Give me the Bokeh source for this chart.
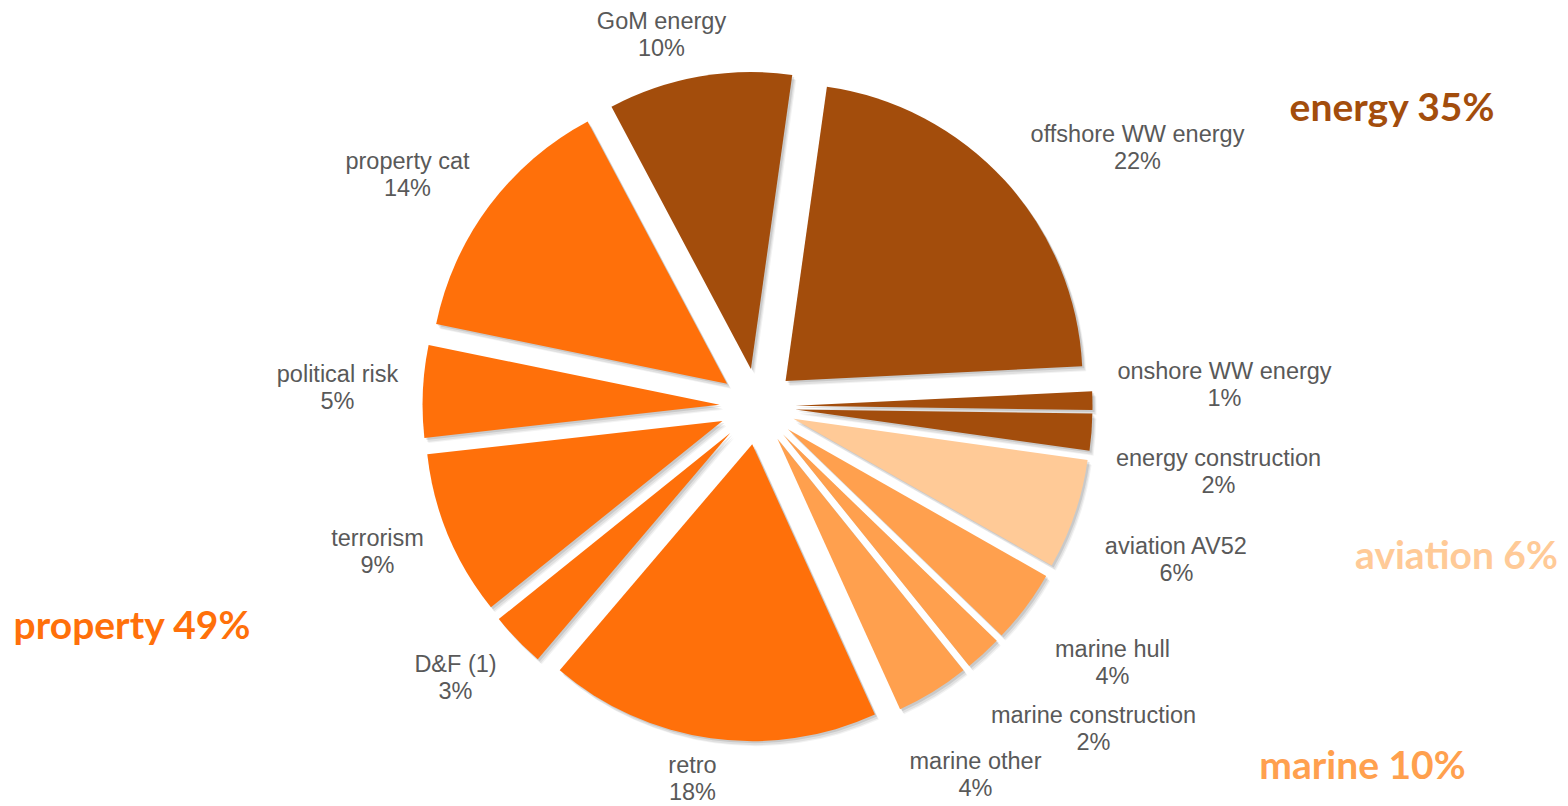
import numpy as np
from bokeh.plotting import figure
from bokeh.models import Range1d
from bokeh.core.properties import value
from bokeh.embed import file_html
from bokeh.resources import INLINE

# ---- data (clockwise from the first slice) ----
categories = ["offshore WW energy", "onshore WW energy", "energy construction",
              "aviation AV52", "marine hull", "marine construction", "marine other",
              "retro", "D&F (1)", "terrorism", "political risk", "property cat",
              "GoM energy"]
shares = [22, 1, 2, 6, 4, 2, 4, 18, 3, 9, 5, 14, 10]
groups = ["energy", "energy", "energy", "aviation", "marine", "marine", "marine",
          "property", "property", "property", "property", "property", "energy"]
group_names = ["energy", "aviation", "marine", "property"]

# ---- styles / layout ----
W, H = 1568, 806
group_colors = {"energy": "#A34D0C", "aviation": "#FFCA97",
                "marine": "#FFA04E", "property": "#FF700A"}
label_color = "#595959"
cx, cy = 757, H - 406
R = 297
explode = 38
start_deg = 8.0
# label block centres (screen px)
label_pos = [(1137, 147), (1224, 384), (1218, 471), (1176, 559), (1112, 662),
             (1093, 728), (975, 774), (692, 778), (455, 677), (377, 551),
             (337, 387), (407, 174), (661, 34)]
group_pos = {"energy": (1392, 105), "aviation": (1456, 553),
             "marine": (1362, 763), "property": (132, 623)}

p = figure(width=W, height=H, output_backend="svg", toolbar_location=None,
           x_range=Range1d(0, W), y_range=Range1d(0, H),
           x_axis_type=None, y_axis_type=None, min_border=0,
           outline_line_color=None, background_fill_color="white")
p.grid.visible = False

vals = np.array(shares, dtype=float)
cum = np.concatenate([[0], np.cumsum(vals)]) / vals.sum() * 360.0 + start_deg
t1 = np.radians(cum[:-1])
t2 = np.radians(cum[1:])
mid = (t1 + t2) / 2
xs = cx + explode * np.sin(mid)
ys = cy + explode * np.cos(mid)
start_b = np.pi / 2 - t2
end_b = np.pi / 2 - t1
colors = [group_colors[g] for g in groups]

# soft shadow
for dx, dy, a in [(4, -5, 0.05), (3, -4, 0.07), (2, -2, 0.10)]:
    p.wedge(x=xs + dx, y=ys + dy, radius=R, start_angle=start_b, end_angle=end_b,
            direction="anticlock", fill_color="black", fill_alpha=a, line_color=None)

p.wedge(x=xs, y=ys, radius=R, start_angle=start_b, end_angle=end_b,
        direction="anticlock", fill_color=colors, line_color=None)

lx = np.array([q[0] for q in label_pos], dtype=float)
ly = H - np.array([q[1] for q in label_pos], dtype=float)
p.text(x=lx, y=ly + 13.5, text=categories, text_align="center", text_baseline="middle",
       text_font=value("Liberation Sans"), text_font_size="23.5px", text_color=label_color)
p.text(x=lx, y=ly - 13.5, text=[f"{v}%" for v in shares], text_align="center",
       text_baseline="middle", text_font=value("Liberation Sans"), text_font_size="23.5px",
       text_color=label_color)

gx = [group_pos[g][0] for g in group_names]
gy = [H - group_pos[g][1] for g in group_names]
gtext = [f"{g} {int(sum(s for s, gg in zip(shares, groups) if gg == g))}%" for g in group_names]
p.text(x=gx, y=gy, text=gtext, text_align="center", text_baseline="middle",
       text_font=value("Lato"), text_font_style="bold", text_font_size="39px",
       text_color=[group_colors[g] for g in group_names])

open("out.html", "w").write(file_html(p, INLINE))
